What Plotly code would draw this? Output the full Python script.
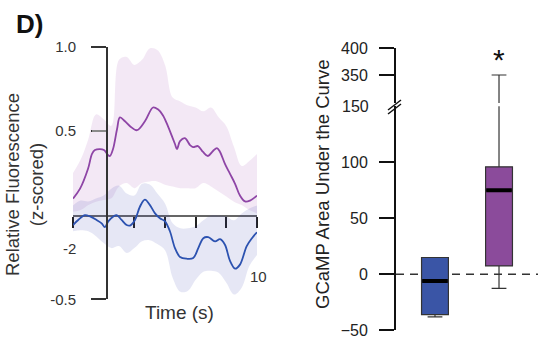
import plotly.graph_objects as go

# ---------------- data ----------------
# Left panel: mean traces (time in s, z-scored fluorescence)
purple_t = [-2.0, -1.54, -1.02, -0.76, -0.57, -0.24, 0.02, 0.28, 0.41, 0.61, 0.87, 1.06, 1.39, 1.72,
            2.17, 2.69, 3.22, 3.54, 3.87, 4.19, 4.45, 4.65, 4.78, 4.98, 5.30, 5.63, 5.83, 6.15,
            6.48, 6.80, 7.13, 7.39, 7.59, 7.91, 8.24, 8.57, 8.89, 9.22, 9.54, 10.0]
purple_mean = [0.098, 0.157, 0.275, 0.363, 0.386, 0.392, 0.386, 0.357, 0.351, 0.392, 0.51, 0.58, 0.557,
               0.528, 0.504, 0.557, 0.639, 0.628, 0.592, 0.528, 0.469, 0.422, 0.392, 0.439, 0.457,
               0.416, 0.404, 0.41, 0.375, 0.351, 0.381, 0.398, 0.375, 0.304, 0.245, 0.186, 0.116,
               0.081, 0.086, 0.116]

blue_t = [-2.0, -1.66, -1.22, -0.89, -0.46, -0.13, 0.08, 0.30, 0.63, 0.85, 1.17, 1.50, 1.72, 2.04,
          2.37, 2.69, 3.02, 3.35, 3.67, 4.0, 4.32, 4.65, 4.98, 5.41, 5.84, 6.17, 6.50, 6.82, 7.26,
          7.59, 7.91, 8.24, 8.57, 8.89, 9.33, 9.67, 10.0]
blue_mean = [-0.059, -0.029, 0.0, -0.008, -0.029, -0.049, -0.072, -0.037, -0.008, 0.0, -0.029, -0.059,
             -0.062, -0.029, 0.051, 0.092, 0.059, 0.01, -0.019, -0.037, -0.096, -0.196, -0.249,
             -0.259, -0.255, -0.196, -0.137, -0.131, -0.156, -0.143, -0.176, -0.272, -0.318, -0.294,
             -0.184, -0.137, -0.102]

# Left panel: SEM bands
band_t = [-2, -1.5, -1, -0.5, 0, 0.5, 1, 1.5, 2, 2.5, 3, 3.5, 4, 4.5, 5, 5.5, 6, 6.5, 7, 7.5,
          8, 8.5, 9, 9.5, 10]
purple_upper = [0.25, 0.33, 0.451, 0.598, 0.569, 0.53, 0.922, 0.939, 0.892, 0.922, 0.99, 0.98,
                0.892, 0.698, 0.675, 0.651, 0.639, 0.616, 0.639, 0.581, 0.528, 0.404, 0.292,
                0.322, 0.363]
purple_lower = [0.02, 0.03, 0.06, 0.08, 0.09, 0.10, 0.17, 0.19, 0.16, 0.19, 0.20, 0.20, 0.18,
                0.17, 0.16, 0.16, 0.16, 0.19, 0.17, 0.14, 0.11, 0.08, 0.06, 0.03, 0.01]
blue_upper = [0.057, 0.086, 0.081, 0.098, 0.116, 0.157, 0.175, 0.128, 0.116, 0.186, 0.181, 0.128,
              0.069, -0.049, -0.078, -0.078, -0.066, -0.031, -0.002, -0.002, -0.008, -0.031,
              0.01, 0.039, 0.057]
blue_lower = [-0.096, -0.09, -0.096, -0.125, -0.166, -0.196, -0.184, -0.225, -0.196, -0.155,
              -0.149, -0.172, -0.208, -0.372, -0.455, -0.449, -0.384, -0.337, -0.331, -0.343,
              -0.402, -0.472, -0.431, -0.302, -0.237]

left_yticks = [-0.5, 0.5, 1.0]
left_yticktext = ["-0.5", "0.5", "1.0"]
left_xticks = [-2, 2, 4, 6, 8, 10]

# Right panel: box statistics (GCaMP AUC)
box_pos = [0, 1]
box_q1 = [-36, 7.5]
box_median = [-6, 75]
box_q3 = [15, 96]
box_lowerfence = [-38, -12.5]
box_upperfence = [15, 350]
box_colors = ["#3A55A6", "#8B4B9B"]
box_width = 0.42

right_low_ticks = [-50, 0, 50, 100]
right_high_ticks = [350, 400]

FONT = "Liberation Sans, Arial, sans-serif"
W, H = 538, 341


def px(x):
    return x / W


def py(y):
    return 1 - y / H


fig = go.Figure()

# bands
fig.add_trace(go.Scatter(x=band_t, y=purple_lower, mode="lines", line=dict(width=0),
                         line_shape="spline", hoverinfo="skip"))
fig.add_trace(go.Scatter(x=band_t, y=purple_upper, mode="lines", line=dict(width=0),
                         line_shape="spline", fill="tonexty",
                         fillcolor="rgba(160,80,175,0.13)", hoverinfo="skip"))
fig.add_trace(go.Scatter(x=band_t, y=blue_lower, mode="lines", line=dict(width=0),
                         line_shape="spline", hoverinfo="skip"))
fig.add_trace(go.Scatter(x=band_t, y=blue_upper, mode="lines", line=dict(width=0),
                         line_shape="spline", fill="tonexty",
                         fillcolor="rgba(60,70,180,0.13)", hoverinfo="skip"))
# mean lines
fig.add_trace(go.Scatter(x=purple_t, y=purple_mean, mode="lines", line_shape="spline",
                         line=dict(color="#8E45A6", width=1.8)))
fig.add_trace(go.Scatter(x=blue_t, y=blue_mean, mode="lines", line_shape="spline",
                         line=dict(color="#2C52B0", width=1.8)))

# boxes (lower segment + upper segment for the broken axis)
for ax in ["y2", "y3"]:
    for i in range(len(box_pos)):
        fig.add_trace(go.Box(
            x=[box_pos[i]], q1=[box_q1[i]], median=[box_median[i]], q3=[box_q3[i]],
            lowerfence=[box_lowerfence[i]], upperfence=[box_upperfence[i]],
            width=box_width, whiskerwidth=0.55, fillcolor=box_colors[i],
            line=dict(color="#333333", width=1.2), boxpoints=False,
            xaxis="x2", yaxis=ax, hoverinfo="skip"))

shapes = []
# thick medians
for i in range(len(box_pos)):
    shapes.append(dict(type="line", xref="x2", yref="y2",
                       x0=box_pos[i] - box_width / 2 + 0.01, x1=box_pos[i] + box_width / 2 - 0.01,
                       y0=box_median[i], y1=box_median[i],
                       line=dict(color="black", width=4)))
# dashed zero line
shapes.append(dict(type="line", xref="x2 domain", yref="y2", x0=0, x1=1, y0=0, y1=0,
                   layer="below", line=dict(color="#333333", width=1.5, dash="8px,6px")))
# axis break marks
for off in [0, 4]:
    shapes.append(dict(type="line", xref="paper", yref="paper",
                       x0=px(388), y0=py(110 + off), x1=px(401), y1=py(100 + off),
                       line=dict(color="#111111", width=1.5)))
# lighter tick at 0.5 on the left axis
shapes.append(dict(type="line", xref="paper", yref="y", x0=px(92), x1=px(106),
                   y0=left_yticks[1], y1=left_yticks[1], line=dict(color="#8a8a8a", width=2)))

annotations = [
    dict(text="<b>D)</b>", x=px(14), y=py(24), xref="paper", yref="paper", xanchor="left",
         yanchor="middle", showarrow=False, font=dict(size=26, color="#111", family=FONT)),
    dict(text="Relative Fluorescence<br>(z-scored)", x=px(24), y=py(185), xref="paper",
         yref="paper", textangle=-90, showarrow=False, xanchor="center", yanchor="middle",
         font=dict(size=18.5, color="#333", family=FONT)),
    dict(text="Time (s)", x=px(179), y=py(312), xref="paper", yref="paper", showarrow=False,
         xanchor="center", yanchor="middle", font=dict(size=19, color="#333", family=FONT)),
    dict(text="-2", x=px(69), y=py(248), xref="paper", yref="paper", showarrow=False,
         xanchor="center", yanchor="middle", font=dict(size=15, color="#333", family=FONT)),
    dict(text="10", x=px(258), y=py(276), xref="paper", yref="paper", showarrow=False,
         xanchor="center", yanchor="middle", font=dict(size=15, color="#333", family=FONT)),
    dict(text="GCaMP Area Under the Curve", x=px(322), y=py(184), xref="paper", yref="paper",
         textangle=-90, showarrow=False, xanchor="center", yanchor="middle",
         font=dict(size=18.5, color="#222", family=FONT)),
    dict(text="150", x=px(371), y=py(107), xref="paper", yref="paper", showarrow=False,
         xanchor="right", yanchor="middle", font=dict(size=16, color="#222", family=FONT)),
    dict(text="*", x=1, y=py(59), xref="x2", yref="paper", showarrow=False,
         xanchor="center", yanchor="middle", font=dict(size=30, color="#111", family=FONT)),
]

fig.update_layout(
    template="none",
    width=W, height=H, margin=dict(l=0, r=0, t=0, b=0, pad=0, autoexpand=False),
    paper_bgcolor="white", plot_bgcolor="white", showlegend=False,
    font=dict(family=FONT, color="#222"),
    xaxis=dict(domain=[px(73), px(257)], range=[-2, 10], anchor="free", position=py(216),
               showgrid=False, zeroline=False, showline=True, linecolor="#666", linewidth=2,
               ticks="outside", tickvals=left_xticks, ticklen=11, tickwidth=2, tickcolor="#222",
               showticklabels=False, layer="below traces", automargin=False),
    yaxis=dict(domain=[py(299.3), py(46.7)], range=[-0.5, 1.0], anchor="free", position=px(107),
               showgrid=False, zeroline=False, showline=True, linecolor="#333", linewidth=2,
               ticks="outside", tickvals=left_yticks, ticktext=left_yticktext, ticklen=15,
               tickwidth=2, tickcolor="#333", ticklabelstandoff=12, automargin=False,
               tickfont=dict(size=15, color="#333", family=FONT)),
    xaxis2=dict(domain=[px(396), 1], range=[-0.609, 1.609], anchor="y2", visible=False,
                automargin=False),
    yaxis2=dict(domain=[py(330.3), py(106.3)], range=[-50, 150], anchor="x2", showgrid=False,
                zeroline=False, showline=True, linecolor="#111", linewidth=2, ticks="outside",
                tickvals=right_low_ticks, ticklen=15, tickwidth=2, tickcolor="#111",
                ticklabelstandoff=8, automargin=False,
                tickfont=dict(size=16, color="#222", family=FONT)),
    yaxis3=dict(domain=[py(103.1), py(48)], range=[298, 400], anchor="x2", showgrid=False,
                zeroline=False, showline=True, linecolor="#111", linewidth=2, ticks="outside",
                tickvals=right_high_ticks, ticklen=15, tickwidth=2, tickcolor="#111",
                ticklabelstandoff=8, automargin=False,
                tickfont=dict(size=16, color="#222", family=FONT)),
    boxmode="overlay",
    shapes=shapes,
    annotations=annotations,
)

fig.write_html("out.html", config={"responsive": False, "displayModeBar": False},
               post_script="document.body.style.margin='0px';document.body.style.overflow='hidden';")
